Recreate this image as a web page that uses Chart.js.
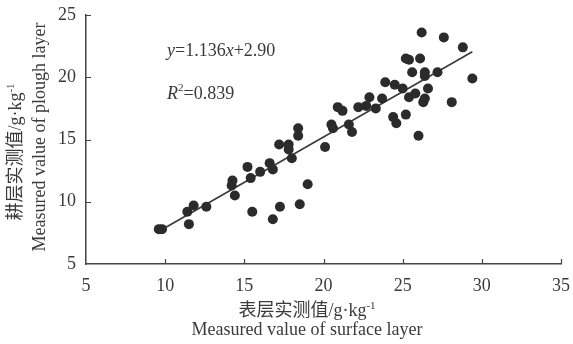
<!DOCTYPE html>
<html lang="zh-CN">
<head>
<meta charset="UTF-8">
<title>Scatter</title>
<script src="https://cdn.jsdelivr.net/npm/chart.js@4.4.1/dist/chart.umd.min.js"></script>
<style>
  html, body { margin: 0; padding: 0; background: #fff; }
  #wrap { width: 573px; height: 344px; }
</style>
</head>
<body>
<div id="wrap"><canvas id="myChart" width="573" height="344"></canvas></div>
<script>
// surface layer values (x) and plough layer values (y), g/kg
var surface = [9.6, 9.8, 11.5, 11.4, 11.8, 12.6, 14.2, 14.25, 14.4, 15.2, 15.4, 15.5, 16.0, 16.6, 16.8, 16.8,
    17.25, 17.2, 17.8, 17.8, 18.0, 18.4, 18.4, 18.5, 19.0, 20.1, 20.5, 20.6, 20.9, 21.2, 21.6, 21.8,
    22.2, 22.7, 23.3, 22.9, 23.7, 23.9, 24.4, 24.6, 24.5, 25.0, 25.2, 25.4, 25.8, 26.0, 26.3, 26.4,
    26.6, 25.2, 25.4, 26.1, 25.6, 26.4, 26.4, 27.2, 26.2, 27.6, 28.8, 29.4, 28.1];
var plough = [7.8, 7.8, 8.2, 9.2, 9.7, 9.6, 11.3, 11.7, 10.5, 12.8, 11.9, 9.2, 12.4, 13.1, 12.6, 8.6,
    9.6, 14.6, 14.6, 14.2, 13.5, 15.9, 15.3, 9.8, 11.4, 14.4, 16.2, 15.9, 17.6, 17.3, 16.2, 15.6,
    17.6, 17.7, 17.5, 18.4, 18.3, 19.6, 16.8, 16.3, 19.4, 19.1, 17.0, 18.4, 18.7, 15.3, 18.0, 18.3,
    19.1, 21.5, 21.4, 21.5, 20.4, 20.4, 20.1, 20.4, 23.6, 23.2, 22.4, 19.9, 18.0];

// fitted line as drawn in the figure (end points)
var fitX = [9.5, 29.4];
var fitY = [7.55, 22.05];

var xTicks = [5, 10, 15, 20, 25, 30, 35];
var yTicks = [5, 10, 15, 20, 25];

var serif = "'Liberation Serif', 'DejaVu Serif', serif";
var cjk = "'Noto Sans CJK SC', sans-serif";
var ink = '#3a3a3a';

var puntos = surface.map(function (v, i) { return { x: v, y: plough[i] }; });
var linha = fitX.map(function (v, i) { return { x: v, y: fitY[i] }; });

// draws a run of text pieces (font / raise) starting or centred at x
function texto(ctx, partes, x, y, centro) {
    var total = 0;
    partes.forEach(function (p) {
        ctx.font = p.font;
        total += ctx.measureText(p.t).width;
    });
    var cx = centro ? x - total / 2 : x;
    partes.forEach(function (p) {
        ctx.font = p.font;
        ctx.fillText(p.t, cx, y - (p.up || 0));
        cx += ctx.measureText(p.t).width;
    });
}

var extras = {
    id: 'extras',
    afterDraw: function (chart) {
        var ctx = chart.ctx;
        var a = chart.chartArea;
        var sx = chart.scales.x, sy = chart.scales.y;
        ctx.save();

        // inward ticks
        ctx.strokeStyle = '#444';
        ctx.lineWidth = 1.2;
        ctx.beginPath();
        xTicks.forEach(function (t) {
            if (t == sx.min) return;
            var px = Math.round(sx.getPixelForValue(t)) + 0.5;
            ctx.moveTo(px, a.bottom);
            ctx.lineTo(px, a.bottom - 5);
        });
        yTicks.forEach(function (t) {
            if (t == sy.min) return;
            var py = Math.round(sy.getPixelForValue(t)) + 0.5;
            ctx.moveTo(a.left, py);
            ctx.lineTo(a.left + 5, py);
        });
        ctx.stroke();

        ctx.fillStyle = ink;
        ctx.textBaseline = 'alphabetic';
        ctx.textAlign = 'left';

        // x title
        texto(ctx, [
            { t: '表层实测值', font: '18px ' + cjk },
            { t: '/g·kg', font: '18px ' + serif },
            { t: '-1', font: '11px ' + serif, up: 7 }
        ], 307, 316, true);
        texto(ctx, [{ t: 'Measured value of surface layer', font: '18px ' + serif }], 307, 335, true);

        // y title
        ctx.save();
        ctx.translate(21, 152);
        ctx.rotate(-Math.PI / 2);
        texto(ctx, [
            { t: '耕层实测值', font: '18px ' + cjk },
            { t: '/g·kg', font: '18px ' + serif },
            { t: '-1', font: '11px ' + serif, up: 7 }
        ], 0, 0, true);
        ctx.restore();
        ctx.save();
        ctx.translate(45, 137);
        ctx.rotate(-Math.PI / 2);
        texto(ctx, [{ t: 'Measured value of plough layer', font: '18px ' + serif }], 0, 0, true);
        ctx.restore();

        // equation
        texto(ctx, [
            { t: 'y', font: 'italic 18px ' + serif },
            { t: '=1.136', font: '18px ' + serif },
            { t: 'x', font: 'italic 18px ' + serif },
            { t: '+2.90', font: '18px ' + serif }
        ], 167, 56, false);
        texto(ctx, [
            { t: 'R', font: 'italic 18px ' + serif },
            { t: '2', font: '11px ' + serif, up: 8 },
            { t: '=0.839', font: '18px ' + serif }
        ], 167, 99, false);

        ctx.restore();
    }
};

const config = {
    type: 'scatter',
    data: {
        datasets: [{
            label: 'amostras',
            data: puntos,
            backgroundColor: '#2b2b2b',
            borderWidth: 0,
            pointRadius: 5,
            pointHoverRadius: 5,
            order: 1
        }, {
            label: 'ajuste',
            data: linha,
            showLine: true,
            borderColor: '#3a3a3a',
            borderWidth: 1.6,
            pointRadius: 0,
            fill: false,
            order: 2
        }]
    },
    options: {
        responsive: false,
        animation: false,
        events: [],
        layout: { padding: { left: 0, right: 11, top: 15, bottom: 0 } },
        plugins: {
            legend: { display: false },
            tooltip: { enabled: false }
        },
        scales: {
            x: {
                type: 'linear',
                min: 5,
                max: 35,
                afterBuildTicks: function (s) { s.ticks = xTicks.map(function (v) { return { value: v }; }); },
                afterFit: function (s) { s.height = 80; },
                grid: { display: false },
                border: { display: true, color: '#444', width: 1.5 },
                ticks: { color: ink, font: { family: serif, size: 18 }, padding: 3, maxRotation: 0 }
            },
            y: {
                type: 'linear',
                min: 5,
                max: 25,
                afterBuildTicks: function (s) { s.ticks = yTicks.map(function (v) { return { value: v }; }); },
                afterFit: function (s) { s.width = 86; },
                grid: { display: false },
                border: { display: true, color: '#444', width: 1.5 },
                ticks: { color: ink, font: { family: serif, size: 18 }, padding: 2 }
            }
        }
    },
    plugins: [extras]
};

const myChart = new Chart(document.getElementById('myChart'), config);
</script>
</body>
</html>
